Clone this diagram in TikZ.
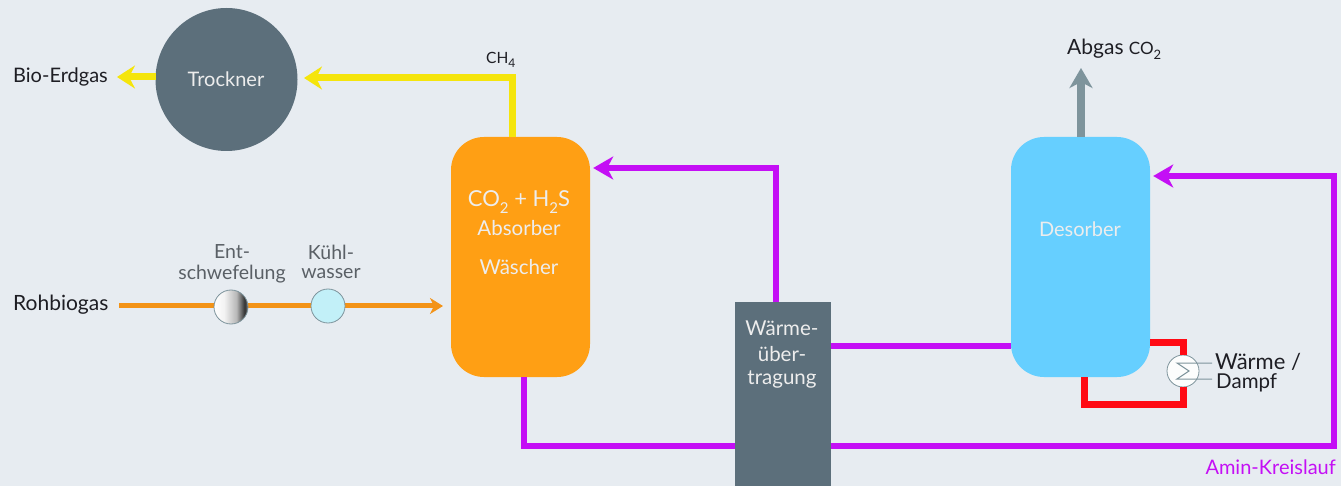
\documentclass[tikz,border=0pt]{standalone}
\usepackage{fontspec}
\setmainfont{Lato}
\usetikzlibrary{arrows.meta,shapes.geometric}
\definecolor{bgc}{HTML}{E7ECF1}
\definecolor{slatec}{HTML}{5C6F7B}
\definecolor{orangec}{HTML}{FF9F14}
\definecolor{linec}{HTML}{F39317}
\definecolor{bluec}{HTML}{66CFFF}
\definecolor{purplec}{HTML}{C40FF5}
\definecolor{yellowc}{HTML}{F5E50C}
\definecolor{redc}{HTML}{FF0A14}
\definecolor{greyc}{HTML}{7E949C}
\definecolor{ink}{HTML}{1E1E24}
\definecolor{softink}{HTML}{5A6066}
\definecolor{coolc}{HTML}{C2F0F8}
\pgfdeclarehorizontalshading{entshade}{100bp}{color(0bp)=(white); color(25bp)=(white); color(40bp)=(white!95!black); color(58bp)=(black!28); color(70bp)=(black!80); color(75bp)=(black!55); color(100bp)=(black!55)}
\newcommand{\sbs}[1]{\raisebox{-0.28em}{\fontsize{15}{15}\selectfont #1}}
\tikzset{
  x=1pt,y=-1pt,
  vessel/.style={draw=none,rounded corners=33pt,minimum width=139pt,minimum height=240pt,inner sep=0pt},
  fs/.style={font=\fontsize{#1}{#1}\selectfont},
  lab/.style={fs=20,text=ink,inner sep=0pt},
  whitelab/.style={fs=20,text=white!93!black,inner sep=0pt,align=center},
  softlab/.style={fs=19.5,text=softink,inner sep=0pt,align=center},
  yline/.style={draw=yellowc,line width=7pt,-{Stealth[length=18pt,width=23pt,inset=6pt]}},
  pline/.style={draw=purplec,line width=6.5pt},
  parrow/.style={pline,-{Stealth[length=20pt,width=23pt,inset=6pt]}},
  rline/.style={draw=redc,line width=7pt},
  valve/.style={circle,draw=greyc,line width=0.8pt,minimum size=34pt,inner sep=0pt}
}
\begin{document}
\begin{tikzpicture}
\useasboundingbox (0,0) rectangle (1341,486);
\fill[bgc] (0,0) rectangle (1341,486);
% coordinates
\coordinate (bioend) at (117,77);
\coordinate (drywest) at (155.5,77);
\coordinate (chend) at (304,78);
\coordinate (chcorner) at (512.5,78);
\coordinate (rawstart) at (119,306);
\coordinate (rawend) at (443,306);
\coordinate (loopA) at (524,446);
\coordinate (loopB) at (1334,446);
\coordinate (loopC) at (1334,176);
\coordinate (retcorner) at (776,168);
\coordinate (lean) at (900,346);
\coordinate (redA) at (1183,342);
\coordinate (redB) at (1183,404);
\coordinate (redC) at (1084,404);
\coordinate (abgastip) at (1081,68);
% vessels
\node[ellipse,fill=slatec,minimum width=142pt,minimum height=143pt,inner sep=0pt] (dry) at (226.5,79.5) {};
\node[vessel,fill=orangec] (abs) at (520.5,257) {};
\node[vessel,fill=bluec] (des) at (1080.5,257) {};
% connectors
\draw[yline] (abs.north -| chcorner) -- (chcorner) -- (chend);
\draw[yline] (drywest) -- (bioend);
\draw[draw=linec,line width=5pt,-{Stealth[length=13pt,width=16pt,inset=4pt]}] (rawstart) -- (rawend);
\draw[parrow,shorten >=3pt] (abs.south -| loopA) -- (loopA) -- (loopB) -- (loopC) -- (des.east |- loopC);
\draw[draw=greyc,line width=7.5pt,-{Stealth[length=20pt,width=23pt,inset=6pt]}] (des.north -| abgastip) -- (abgastip);
% heat exchanger box
\node[fill=slatec,minimum width=96pt,minimum height=186pt,inner sep=0pt] (hxbox) at (783,395) {};
\draw[parrow,shorten >=3pt] (hxbox.north -| retcorner) -- (retcorner) -- (abs.east |- retcorner);
\draw[pline] (hxbox.east |- lean) -- (des.west |- lean);
% reboiler
\node[valve,minimum size=32pt,fill=white!88!bgc] (reb) at (1183,371) {};
\draw[rline] (des.east |- redA) -- (redA) -- (reb.north);
\draw[rline] (reb.south) -- (redB) -- (redC) -- (des.south -| redC);
\coordinate (coilA) at (1212,363);
\coordinate (coilB) at (1177,363);
\coordinate (coilC) at (1189,371);
\coordinate (coilD) at (1177,379);
\coordinate (coilE) at (1212,379);
\draw[greyc,line width=1pt] (coilA) -- (coilB) -- (coilC) -- (coilD) -- (coilE);
% valves
\node[valve,shading=entshade] (ent) at (231,307) {};
\node[valve,fill=coolc] (kuehl) at (328,306) {};
% labels
\node[whitelab] (tdry) at (dry.center) [xshift=-0.5pt] {Trockner};
\node[lab,anchor=west] (tbio) at (13,77) {Bio-Erdgas};
\node[lab,anchor=west,fs=21] (traw) at (13,305) {Rohbiogas};
\node[lab,anchor=west,fs=15.5] (tch) at (486,60) {CH\raisebox{-0.28em}{\fontsize{12}{12}\selectfont 4}};
\node[softlab] (tent) at (232,252) {Ent-};
\node[softlab] (tschw) at (232,274) {schwefelung};
\node[softlab] (tkue) at (331,252) {Kühl-};
\node[softlab] (twas) at (331,274) {wasser};
\node[whitelab,fs=22] (tco) at (519,202) {CO\sbs{2} + H\sbs{2}S};
\node[whitelab,fs=20.5] (tabs) at (519,228) {Absorber};
\node[whitelab,fs=20.5] (twae) at (519,267) {Wäscher};
\node[whitelab] (tdes) at (1080,229) {Desorber};
\node[whitelab,fs=20.5] (thx1) at (782,328) {Wärme-};
\node[whitelab,fs=20.5] (thx2) at (782,354) {über-};
\node[whitelab,fs=20.5] (thx3) at (782,379) {tragung};
\node[lab,anchor=west,fs=21] (tab) at (1067,49) {Abgas \fontsize{17}{17}\selectfont CO\raisebox{-0.28em}{\fontsize{13}{13}\selectfont 2}};
\node[lab,anchor=west,fs=22] (tw) at (1215,362) {Wärme /};
\node[lab,anchor=west,fs=20.5] (td) at (1216,383) {Dampf};
\node[lab,anchor=east,text=purplec] (tam) at (1336,467) {Amin-Kreislauf};
\end{tikzpicture}
\end{document}
